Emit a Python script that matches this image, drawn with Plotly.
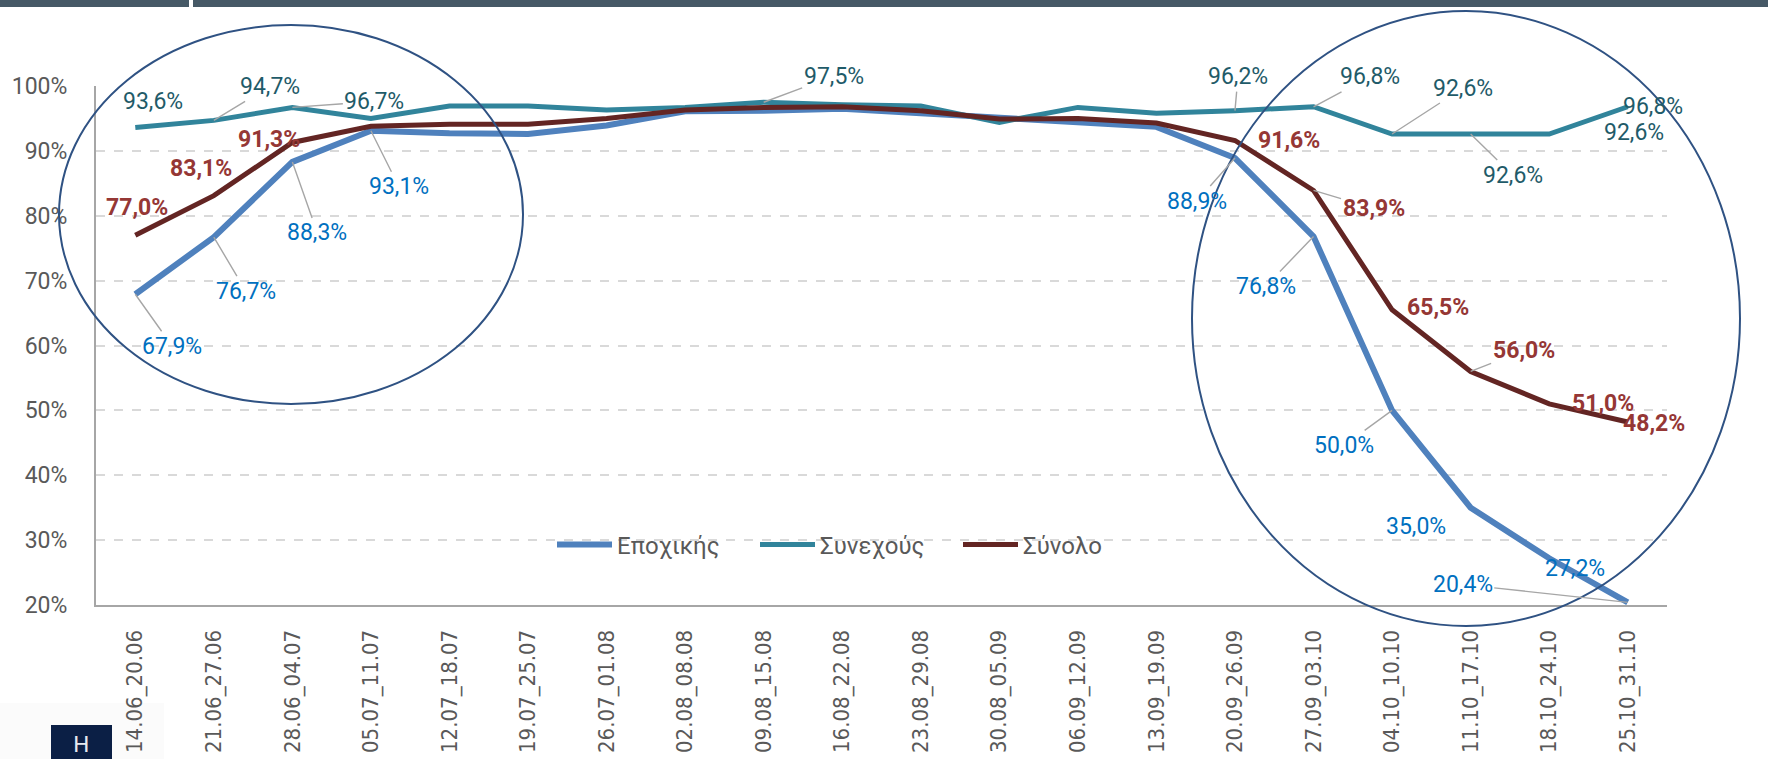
import plotly.graph_objects as go

# ---------------- data ----------------
categories = ["14.06_20.06", "21.06_27.06", "28.06_04.07", "05.07_11.07", "12.07_18.07",
              "19.07_25.07", "26.07_01.08", "02.08_08.08", "09.08_15.08", "16.08_22.08",
              "23.08_29.08", "30.08_05.09", "06.09_12.09", "13.09_19.09", "20.09_26.09",
              "27.09_03.10", "04.10_10.10", "11.10_17.10", "18.10_24.10", "25.10_31.10"]
seasonal = [67.9, 76.7, 88.3, 93.1, 92.7, 92.6, 93.9, 96.1, 96.2, 96.5,
            95.8, 95.1, 94.3, 93.7, 88.9, 76.8, 50.0, 35.0, 27.2, 20.4]
continuous = [93.6, 94.7, 96.7, 95.0, 96.9, 96.9, 96.3, 96.7, 97.5, 97.1,
              96.9, 94.4, 96.7, 95.8, 96.2, 96.8, 92.6, 92.6, 92.6, 96.8]
total = [77.0, 83.1, 91.3, 93.8, 94.1, 94.1, 95.0, 96.3, 96.7, 96.8,
         96.2, 94.9, 95.0, 94.3, 91.6, 83.9, 65.5, 56.0, 51.0, 48.2]
series_names = ["Εποχικής", "Συνεχούς", "Σύνολο"]
y_ticks = [20, 30, 40, 50, 60, 70, 80, 90, 100]

# labelled points: index -> (dx, dy screen px offset of label centre, leader line?)
seasonal_labels = {0: (37, 52, True), 1: (32, 54, True), 2: (25, 71, True), 3: (28, 56, True),
                   14: (-38, 43, True), 15: (-48, 50, True), 16: (-48, 35, True),
                   17: (-55, 19, False), 18: (26, 10, False), 19: (-165, -18, True)}
continuous_labels = {0: (18, -26, False), 1: (56, -34, True), 2: (82, -6, True), 8: (70, -26, True),
                     14: (3, -34, True), 15: (56, -30, True), 16: (71, -46, True),
                     17: (42, 41, True), 18: (85, -2, False), 19: (25, 0, False)}
total_labels = {0: (2, -28, False), 1: (-13, -27, False), 2: (-23, -3, False),
                14: (54, 0, False), 15: (60, 18, True), 16: (46, -2, False),
                17: (53, -21, True), 18: (54, 0, False), 19: (26, 1, False)}

# ---------------- styles ----------------
W, H = 1768, 759
L, R, T, B = 96, 101, 86, 154
PW, PH = W - L - R, H - T - B
line_colors = ["#4f81bd", "#31849b", "#632523"]
line_widths = [6, 5, 5]
label_colors = ["#0070c0", "#1f5b69", "#953735"]
GREY_TXT = "#595959"
LEADER = "#a6a6a6"
LABEL_FONT = "Roboto"


def px_x(px):
    return (px - L) / PW


def px_y(py):
    return (H - B - py) / PH


def fmt(v):
    return f"{v:.1f}".replace(".", ",") + "%"


fig = go.Figure()
for name, vals, col, lw in zip(series_names, [seasonal, continuous, total], line_colors, line_widths):
    fig.add_trace(go.Scatter(x=categories, y=vals, mode="lines", name=name,
                             line=dict(color=col, width=lw), hoverinfo="skip"))

annotations = []
for vals, labs, col, bold in zip([seasonal, continuous, total],
                                 [seasonal_labels, continuous_labels, total_labels],
                                 label_colors, [False, False, True]):
    for i, (dx, dy, leader) in labs.items():
        txt = fmt(vals[i])
        if bold:
            txt = "<b>" + txt + "</b>"
        a = dict(x=categories[i], y=vals[i], xref="x", yref="y", text=txt,
                 font=dict(family=LABEL_FONT, size=23, color=col))
        if leader:
            a.update(showarrow=True, ax=dx, ay=dy, arrowhead=0, arrowwidth=1.4,
                     arrowcolor=LEADER, standoff=0, startstandoff=0)
        else:
            a.update(showarrow=False, xshift=dx, yshift=-dy)
        annotations.append(a)

# logo letter
annotations.append(dict(x=px_x(81), y=px_y(744), xref="paper", yref="paper", text="H",
                        showarrow=False, font=dict(family="DejaVu Sans", size=22, color="#e6e9ef"),
                        xanchor="center", yanchor="middle"))

shapes = [
    # top bar
    dict(type="rect", xref="paper", yref="paper", x0=px_x(0), x1=px_x(W), y0=px_y(0), y1=px_y(7),
         fillcolor="#465966", line=dict(width=0), layer="above"),
    dict(type="rect", xref="paper", yref="paper", x0=px_x(189), x1=px_x(193), y0=px_y(0), y1=px_y(8),
         fillcolor="white", line=dict(width=0), layer="above"),
    # logo area
    dict(type="rect", xref="paper", yref="paper", x0=px_x(0), x1=px_x(164), y0=px_y(703), y1=px_y(H),
         fillcolor="#fbfbfb", line=dict(width=0), layer="below"),
    dict(type="rect", xref="paper", yref="paper", x0=px_x(51), x1=px_x(112), y0=px_y(725), y1=px_y(H + 5),
         fillcolor="#0b1f45", line=dict(width=0), layer="below"),
    # highlight ellipses
    dict(type="circle", xref="paper", yref="paper", x0=px_x(59), x1=px_x(523), y0=px_y(404), y1=px_y(25),
         line=dict(color="#2f5283", width=2), fillcolor="rgba(0,0,0,0)", layer="above"),
    dict(type="circle", xref="paper", yref="paper", x0=px_x(1192), x1=px_x(1740), y0=px_y(626), y1=px_y(11),
         line=dict(color="#2f5283", width=2), fillcolor="rgba(0,0,0,0)", layer="above"),
]

fig.update_layout(
    width=W, height=H, autosize=False,
    margin=dict(l=L, r=R, t=T, b=B, pad=0, autoexpand=False),
    paper_bgcolor="white", plot_bgcolor="white",
    separators=",.",
    showlegend=True,
    legend=dict(orientation="h", x=px_x(552), y=px_y(545), xanchor="left", yanchor="middle",
                font=dict(family=LABEL_FONT, size=24, color=GREY_TXT), bgcolor="rgba(0,0,0,0)",
                itemwidth=55, entrywidth=133, entrywidthmode="pixels", tracegroupgap=0),
    annotations=annotations,
    shapes=shapes,
)
fig.update_xaxes(type="category", showgrid=False, showline=True, linecolor="#a6a6a6", linewidth=2,
                 ticks="", tickangle=-90, ticklabelstandoff=14, automargin=False,
                 tickfont=dict(family="DejaVu Sans Condensed, DejaVu Sans", size=22, color=GREY_TXT),
                 range=[-0.5, len(categories) - 0.5], fixedrange=True)
fig.update_yaxes(range=[20, 100], tickvals=y_ticks, ticktext=[f"{v}%" for v in y_ticks],
                 showgrid=True, gridcolor="#d9d9d9", griddash="dash", gridwidth=1.5,
                 showline=True, linecolor="#a6a6a6", linewidth=2, ticks="", ticklabelstandoff=22,
                 zeroline=False, automargin=False, tickfont=dict(family=LABEL_FONT, size=23, color=GREY_TXT),
                 fixedrange=True)

fig.write_html("out.html", config={"displayModeBar": False},
               post_script="document.body.style.margin='0';document.body.style.overflow='hidden';")
